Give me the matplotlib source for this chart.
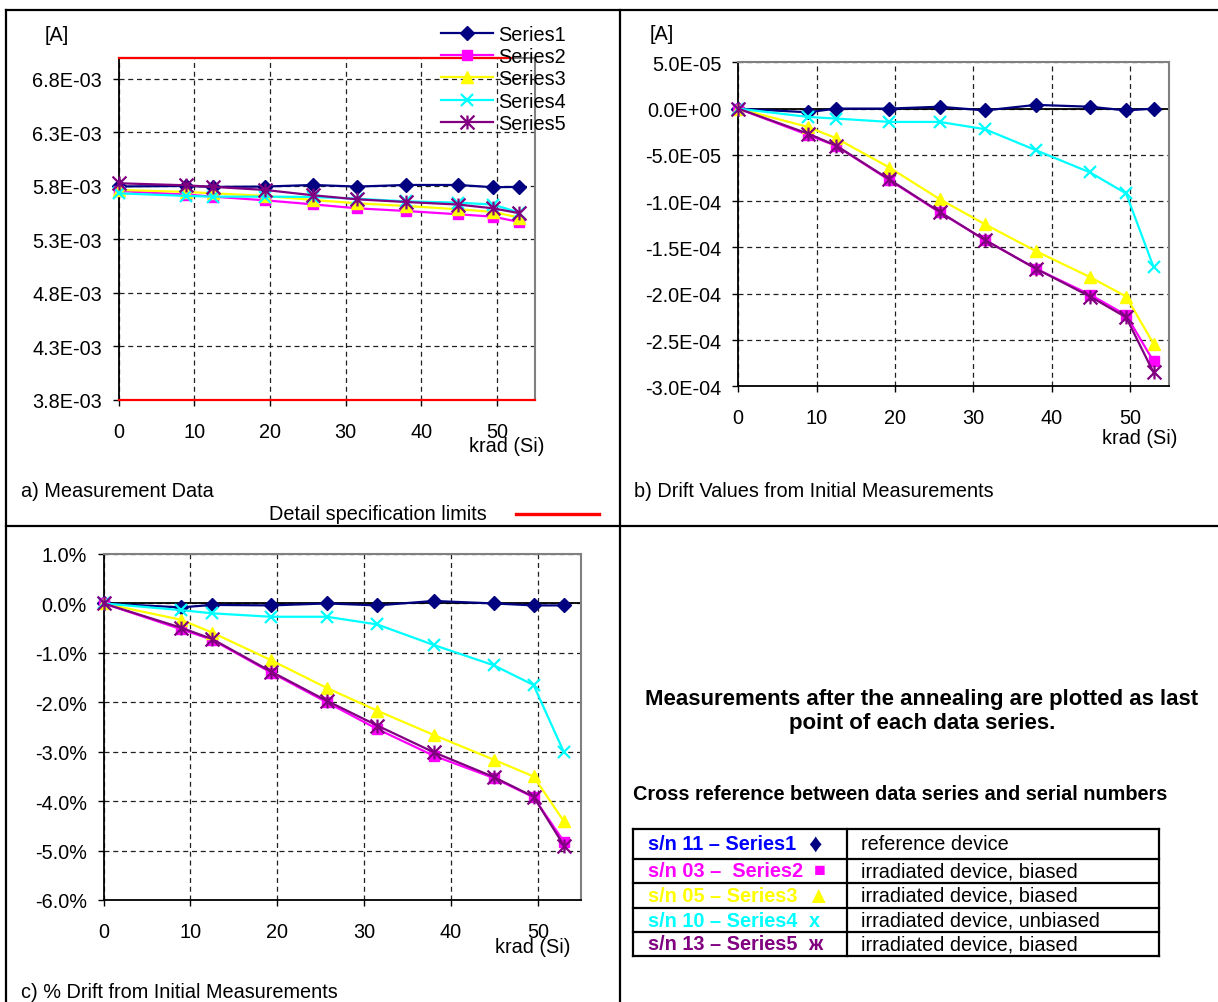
import matplotlib
matplotlib.use("Agg")
import matplotlib.pyplot as plt
from matplotlib.lines import Line2D
from matplotlib.path import Path
from matplotlib.ticker import FormatStrFormatter, FuncFormatter

plt.rcParams['font.family'] = ['Liberation Sans', 'DejaVu Sans']
FS = 14.3

# dose steps, krad (Si); last point = after annealing
dose = [0, 8.9, 12.5, 19.3, 25.7, 31.5, 38.0, 44.9, 49.5, 53.0]
x_ticks = [0, 10, 20, 30, 40, 50]
names = ['Series1', 'Series2', 'Series3', 'Series4', 'Series5']

# a) measurement data [A]
meas_s1 = [5.795e-3, 5.800e-3, 5.791e-3, 5.794e-3, 5.809e-3, 5.794e-3, 5.809e-3, 5.809e-3, 5.788e-3, 5.791e-3]
meas_s2 = [5.753e-3, 5.719e-3, 5.700e-3, 5.666e-3, 5.628e-3, 5.591e-3, 5.566e-3, 5.535e-3, 5.513e-3, 5.463e-3]
meas_s3 = [5.763e-3, 5.744e-3, 5.731e-3, 5.707e-3, 5.669e-3, 5.638e-3, 5.613e-3, 5.582e-3, 5.557e-3, 5.504e-3]
meas_s4 = [5.731e-3, 5.707e-3, 5.700e-3, 5.700e-3, 5.697e-3, 5.681e-3, 5.656e-3, 5.644e-3, 5.626e-3, 5.551e-3]
meas_s5 = [5.825e-3, 5.806e-3, 5.791e-3, 5.763e-3, 5.713e-3, 5.675e-3, 5.650e-3, 5.626e-3, 5.591e-3, 5.545e-3]
spec_upper = 7.0e-3
spec_lower = 3.8e-3
spec_upper_x = [0, 51.9]
a_yticks = [3.8e-3, 4.3e-3, 4.8e-3, 5.3e-3, 5.8e-3, 6.3e-3, 6.8e-3]

# b) drift from initial [A]
drift_s1 = [0, -0.4e-5, 0, 0, 0.2e-5, -0.2e-5, 0.4e-5, 0.2e-5, -0.2e-5, 0]
drift_s2 = [0, -2.84e-5, -4.03e-5, -7.73e-5, -11.2e-5, -14.2e-5, -17.3e-5, -20.1e-5, -22.3e-5, -27.3e-5]
drift_s3 = [0, -1.98e-5, -3.2e-5, -6.37e-5, -9.78e-5, -12.5e-5, -15.4e-5, -18.2e-5, -20.3e-5, -25.4e-5]
drift_s4 = [0, -0.9e-5, -1.08e-5, -1.44e-5, -1.44e-5, -2.23e-5, -4.5e-5, -6.9e-5, -9.17e-5, -17.1e-5]
drift_s5 = [0, -2.7e-5, -4.0e-5, -7.66e-5, -11.15e-5, -14.2e-5, -17.3e-5, -20.3e-5, -22.55e-5, -28.5e-5]
b_yticks = [5e-5, 0, -5e-5, -1e-4, -1.5e-4, -2e-4, -2.5e-4, -3e-4]

# c) % drift from initial
pct_s1 = [0, -0.08, -0.03, -0.04, 0.0, -0.04, 0.05, 0.0, -0.04, -0.04]
pct_s2 = [0, -0.52, -0.735, -1.40, -2.00, -2.54, -3.08, -3.53, -3.92, -4.82]
pct_s3 = [0, -0.33, -0.59, -1.15, -1.71, -2.17, -2.66, -3.16, -3.50, -4.41]
pct_s4 = [0, -0.135, -0.20, -0.27, -0.27, -0.425, -0.84, -1.25, -1.65, -3.01]
pct_s5 = [0, -0.49, -0.72, -1.38, -1.97, -2.47, -3.01, -3.51, -3.91, -4.90]
c_yticks = [1, 0, -1, -2, -3, -4, -5, -6]

# cross reference table
table_sn = ['s/n 11 – Series1', 's/n 03 –  Series2', 's/n 05 – Series3', 's/n 10 – Series4', 's/n 13 – Series5']
table_sym = ['♦', '■', '▲', 'x', 'ж']
table_desc = ['reference device', 'irradiated device, biased', 'irradiated device, biased',
              'irradiated device, unbiased', 'irradiated device, biased']

W, H = 1218, 1003


def fx(x):
    return x / W


def fy(y):
    return 1 - y / H


def rect(l, t, r, b):
    return [fx(l), fy(b), (r - l) / W, (b - t) / H]


def fig_line(xs, ys, **kw):
    fig.add_artist(Line2D([fx(x) for x in xs], [fy(y) for y in ys],
                          transform=fig.transFigure, **kw))


star = Path([(0, -1), (0, 1), (-1, -1), (1, 1), (-1, 1), (1, -1)],
            [Path.MOVETO, Path.LINETO] * 3)
styles = [
    dict(color='#000080', marker='D', ms=6.8),
    dict(color='#FF00FF', marker='s', ms=7.2),
    dict(color='#FFFF00', marker='^', ms=9),
    dict(color='#00FFFF', marker='x', ms=9, mew=1.6),
    dict(color='#800080', marker=star, ms=10, mew=1.6),
]


def style_axes(ax, yticks, fmt):
    ax.set_xlim(0, 55)
    ax.set_ylim(min(yticks), max(yticks))
    ax.set_xticks(x_ticks)
    ax.set_yticks(yticks)
    ax.yaxis.set_major_formatter(fmt)
    ax.grid(True, color='#202020', linestyle=(0, (4, 3)), linewidth=0.9)
    ax.set_axisbelow(True)
    for side in ('top', 'right'):
        ax.spines[side].set_color('#808080')
        ax.spines[side].set_linewidth(1.5)
    for side in ('left', 'bottom'):
        ax.spines[side].set_color('black')
        ax.spines[side].set_linewidth(1.3)
    ax.tick_params(axis='y', direction='out', length=4, width=1, labelsize=FS, pad=8)
    ax.tick_params(axis='x', direction='out', length=4, width=1, labelsize=FS, pad=11.5)


def plot_series(ax, data):
    lines = []
    for vals, st in zip(data, styles):
        ln, = ax.plot(dose, vals, color=st['color'], lw=1.6, marker=st['marker'],
                      ms=st['ms'], mew=st.get('mew', 1), mfc=st['color'], mec=st['color'],
                      clip_on=False, zorder=4)
        lines.append(ln)
    return lines


fig = plt.figure(figsize=(W / 100, H / 100), dpi=100)

# frame of the 2x2 layout
frame_kw = dict(color='black', lw=1.6)
fig_line([6, 1218], [11, 11], **frame_kw)
fig_line([6, 6], [11, 1003], **frame_kw)
fig_line([620, 620], [11, 1003], **frame_kw)
fig_line([6, 1218], [527, 527], **frame_kw)

# a) measurement data
ax_a = fig.add_axes(rect(118.6, 58.5, 534.6, 401))
style_axes(ax_a, a_yticks, FormatStrFormatter('%.1E'))
ax_a.set_ylim(spec_lower, spec_upper)
ax_a.plot(spec_upper_x, [spec_upper, spec_upper], color='red', lw=1.6, zorder=3, clip_on=False)
ax_a.axhline(spec_lower, color='red', lw=1.6, zorder=3, clip_on=False)
lines_a = plot_series(ax_a, [meas_s1, meas_s2, meas_s3, meas_s4, meas_s5])
ax_a.legend(lines_a, names, loc='upper left', bbox_to_anchor=(fx(441), fy(26)),
            bbox_transform=fig.transFigure, frameon=False, borderpad=0, borderaxespad=0,
            handlelength=2.6, handletextpad=0.3, labelspacing=0.16, fontsize=FS)
fig.text(fx(56.7), fy(35.5), '[A]', fontsize=FS, ha='center', va='center')
fig.text(fx(507), fy(447), 'krad (Si)', fontsize=FS, ha='center', va='center')
fig.text(fx(20.6), fy(492), 'a) Measurement Data', fontsize=FS, ha='left', va='center')
fig.text(fx(378), fy(515), 'Detail specification limits', fontsize=FS, ha='center', va='center')
fig_line([516, 599], [515, 515], color='red', lw=2.4)

# b) drift values
ax_b = fig.add_axes(rect(738.2, 63.3, 1169.2, 387.3))
style_axes(ax_b, b_yticks, FormatStrFormatter('%.1E'))
ax_b.axhline(0, color='black', lw=1.3, zorder=2)
plot_series(ax_b, [drift_s1, drift_s2, drift_s3, drift_s4, drift_s5])
fig.text(fx(661.3), fy(35), '[A]', fontsize=FS, ha='center', va='center')
fig.text(fx(1140), fy(439), 'krad (Si)', fontsize=FS, ha='center', va='center')
fig.text(fx(634.5), fy(491.7), 'b) Drift Values from Initial Measurements', fontsize=FS,
         ha='left', va='center')

# c) percent drift
ax_c = fig.add_axes(rect(103.6, 555, 581.3, 901))
style_axes(ax_c, c_yticks, FuncFormatter(lambda v, p: f'{v:.1f}%'))
ax_c.axhline(0, color='black', lw=1.3, zorder=2)
plot_series(ax_c, [pct_s1, pct_s2, pct_s3, pct_s4, pct_s5])
fig.text(fx(533), fy(947.7), 'krad (Si)', fontsize=FS, ha='center', va='center')
fig.text(fx(20.6), fy(993), 'c) % Drift from Initial Measurements', fontsize=FS,
         ha='left', va='center')

# d) notes and cross reference table
fig.text(fx(922), fy(699), 'Measurements after the annealing are plotted as last',
         fontsize=16, fontweight='bold', ha='center', va='center')
fig.text(fx(922), fy(723), 'point of each data series.',
         fontsize=16, fontweight='bold', ha='center', va='center')
fig.text(fx(633.3), fy(795), 'Cross reference between data series and serial numbers',
         fontsize=FS, fontweight='bold', ha='left', va='center')

tbl_kw = dict(color='black', lw=1.6)
row_edges = [830, 860, 884, 909, 933.3, 956.7]
for y in row_edges:
    fig_line([633.3, 1159], [y, y], **tbl_kw)
for x in [633.3, 847, 1159]:
    fig_line([x, x], [830, 956.7], **tbl_kw)

text_colors = ['#0000FF', '#FF00FF', '#FFFF00', '#00FFFF', '#800080']
sym_colors = ['#000080', '#FF00FF', '#FFFF00', '#00FFFF', '#800080']
sym_x = [815, 820, 818, 814.5, 815.6]
sym_size = [19, 14, 17, FS, FS]
for i in range(5):
    yc = (row_edges[i] + row_edges[i + 1]) / 2
    fig.text(fx(647.5), fy(yc), table_sn[i], fontsize=FS, fontweight='bold',
             color=text_colors[i], ha='left', va='center')
    fig.text(fx(sym_x[i]), fy(yc), table_sym[i], fontsize=sym_size[i], fontweight='bold',
             color=sym_colors[i], ha='center', va='center')
    fig.text(fx(861.4), fy(yc), table_desc[i], fontsize=FS, color='black',
             ha='left', va='center')

fig.savefig('out.png', dpi=100)
